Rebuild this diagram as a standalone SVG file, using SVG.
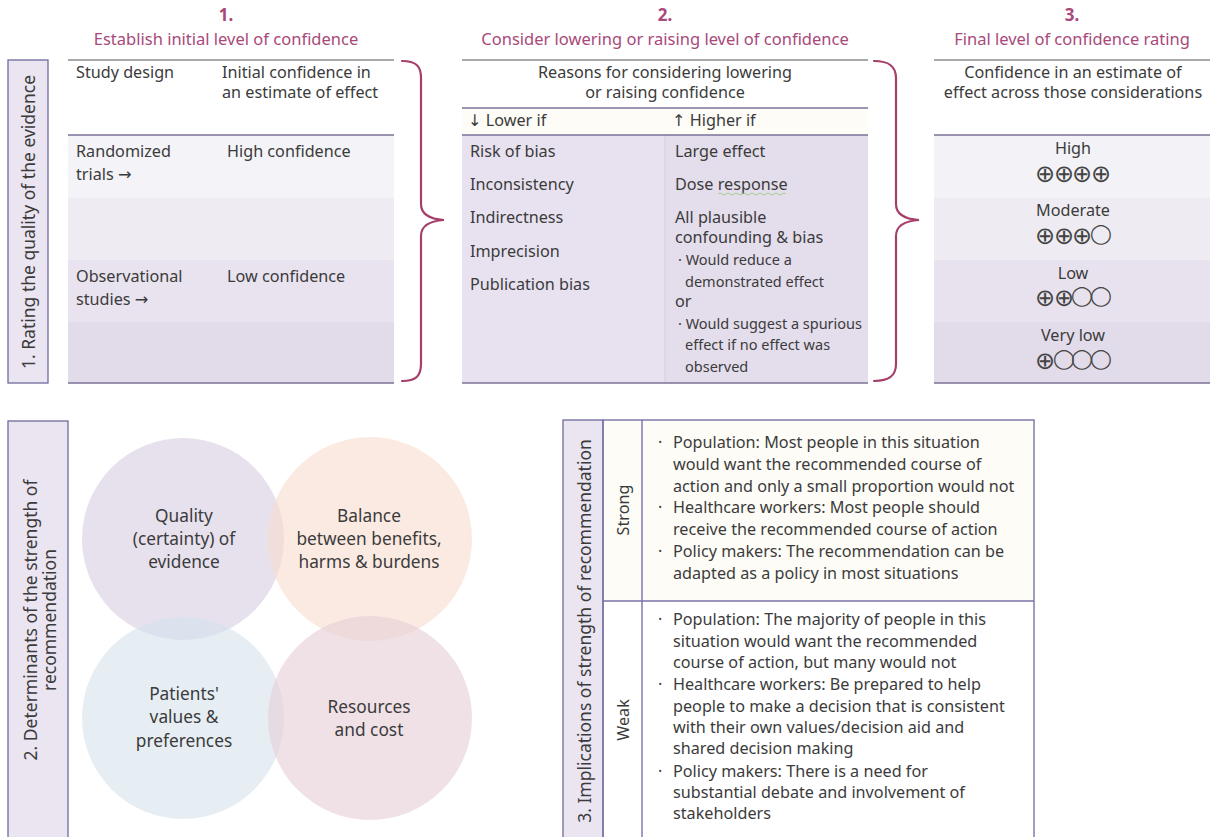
<svg xmlns="http://www.w3.org/2000/svg" width="1213" height="837" viewBox="0 0 1213 837">
  <style>
    text { font-family: "Noto Sans", "Liberation Sans", sans-serif; fill: #3b3b3b; }
    .t { font-size: 16.2px; }
    .s { font-size: 14.5px; }
    .c { text-anchor: middle; }
    .arr { font-family: "DejaVu Sans", sans-serif; }
    .hd { font-size: 16.5px; fill: #a8497a; text-anchor: middle; }
    .num { font-size: 17px; font-weight: bold; fill: #a8497a; text-anchor: middle; }
    .lbl { font-size: 17.5px; text-anchor: middle; }
    .circ { font-size: 17.3px; text-anchor: middle; }
    .sym { font-family: "DejaVu Sans", sans-serif; font-size: 19.5px; text-anchor: middle; fill: #444; }
    .plus { font-size: 24px; }
    .topline { stroke: #555; stroke-width: 1.2; }
    .pline { stroke: #7d7199; stroke-width: 1.5; }
    .labelbox { fill: #ebe5f2; stroke: #6f6a9c; stroke-width: 1.3; }
    .brace { fill: none; stroke: #a4406a; stroke-width: 2.2; stroke-linecap: round; }
    .grid { fill: none; stroke: #7a72a8; stroke-width: 1.4; }
  </style>

  <!-- Section 1: rating the quality of the evidence -->
  <g id="label-rating">
    <rect class="labelbox" x="8" y="60" width="40" height="323"/>
    <text class="lbl" transform="translate(35,222) rotate(-90)">1. Rating the quality of the evidence</text>
  </g>

  <g id="step1-initial">
    <text class="num" x="226" y="21">1.</text>
    <text class="hd" x="226" y="45">Establish initial level of confidence</text>
    <rect x="68" y="135" width="326" height="63" fill="#f4f3f7"/>
    <rect x="68" y="198" width="326" height="62" fill="#eeecf2"/>
    <rect x="68" y="260" width="326" height="62" fill="#e9e3ef"/>
    <rect x="68" y="322" width="326" height="61" fill="#e2dbea"/>
    <line class="topline" x1="68" y1="60" x2="394" y2="60"/>
    <line class="pline" x1="68" y1="135" x2="394" y2="135"/>
    <line class="pline" x1="68" y1="383" x2="394" y2="383"/>
    <text class="t" x="76" y="78">Study design</text>
    <text class="t" x="222" y="78">Initial confidence in</text>
    <text class="t" x="222" y="98">an estimate of effect</text>
    <text class="t" x="76" y="157">Randomized</text>
    <text class="t" x="76" y="180">trials <tspan class="arr">→</tspan></text>
    <text class="t" x="227" y="157">High confidence</text>
    <text class="t" x="76" y="282">Observational</text>
    <text class="t" x="76" y="305">studies <tspan class="arr">→</tspan></text>
    <text class="t" x="227" y="282">Low confidence</text>
  </g>

  <g id="step2-adjust">
    <text class="num" x="665" y="21">2.</text>
    <text class="hd" x="665" y="45">Consider lowering or raising level of confidence</text>
    <rect x="462" y="108" width="406" height="27" fill="#fdfcf6"/>
    <rect x="462" y="135" width="203" height="248" fill="#e8e2f0"/>
    <rect x="665" y="135" width="203" height="248" fill="#e4ddec"/>
    <line x1="665" y1="135" x2="665" y2="383" stroke="#d4cde0" stroke-width="1"/>
    <line class="topline" x1="462" y1="60" x2="868" y2="60"/>
    <line class="pline" x1="462" y1="108" x2="868" y2="108"/>
    <line class="pline" x1="462" y1="135" x2="868" y2="135"/>
    <line class="pline" x1="462" y1="383" x2="868" y2="383"/>
    <text class="t c" x="665" y="78">Reasons for considering lowering</text>
    <text class="t c" x="665" y="98">or raising confidence</text>
    <text class="t" x="468" y="126"><tspan class="arr">↓</tspan> Lower if</text>
    <text class="t" x="672" y="126"><tspan class="arr">↑</tspan> Higher if</text>
    <text class="t" x="470" y="157">Risk of bias</text>
    <text class="t" x="470" y="190">Inconsistency</text>
    <text class="t" x="470" y="223">Indirectness</text>
    <text class="t" x="470" y="257">Imprecision</text>
    <text class="t" x="470" y="290">Publication bias</text>
    <text class="t" x="675" y="157">Large effect</text>
    <text class="t" x="675" y="190">Dose response</text>
    <path d="M718,194 q2,-2 4,0 t4,0 t4,0 t4,0 t4,0 t4,0 t4,0 t4,0 t4,0 t4,0 t4,0 t4,0 t4,0 t4,0 t4,0 t4,0 t4,0" fill="none" stroke="#9cc97a" stroke-width="1" opacity="0.8"/>
    <text class="t" x="675" y="223">All plausible</text>
    <text class="t" x="675" y="243">confounding &amp; bias</text>
    <text class="s" x="678" y="265">· Would reduce a</text>
    <text class="s" x="685" y="287">demonstrated effect</text>
    <text class="t" x="675" y="307">or</text>
    <text class="s" x="678" y="329">· Would suggest a spurious</text>
    <text class="s" x="685" y="350">effect if no effect was</text>
    <text class="s" x="685" y="372">observed</text>
  </g>

  <g id="step3-final">
    <text class="num" x="1072" y="21">3.</text>
    <text class="hd" x="1072" y="45">Final level of confidence rating</text>
    <rect x="934" y="135" width="276" height="63" fill="#f3f2f6"/>
    <rect x="934" y="198" width="276" height="62" fill="#eeecf2"/>
    <rect x="934" y="260" width="276" height="62" fill="#e8e2ee"/>
    <rect x="934" y="322" width="276" height="61" fill="#e2dbea"/>
    <line class="topline" x1="934" y1="60" x2="1210" y2="60"/>
    <line class="pline" x1="934" y1="135" x2="1210" y2="135"/>
    <line class="pline" x1="934" y1="383" x2="1210" y2="383"/>
    <text class="t c" x="1073" y="78">Confidence in an estimate of</text>
    <text class="t c" x="1073" y="98">effect across those considerations</text>
    <text class="t c" x="1073" y="154">High</text>
    <text class="sym" x="1045 1064 1082 1101" y="182"><tspan class="plus">⊕⊕⊕⊕</tspan></text>
    <text class="t c" x="1073" y="216">Moderate</text>
    <text class="sym" x="1045 1064 1082 1101" y="244 244 244 239.6"><tspan class="plus">⊕⊕⊕</tspan>◯</text>
    <text class="t c" x="1073" y="279">Low</text>
    <text class="sym" x="1045 1064 1082 1101" y="306 306 301.6 301.6"><tspan class="plus">⊕⊕</tspan>◯◯</text>
    <text class="t c" x="1073" y="341">Very low</text>
    <text class="sym" x="1045 1064 1082 1101" y="369 364.6 364.6 364.6"><tspan class="plus">⊕</tspan>◯◯◯</text>
  </g>

  <!-- Section 2: determinants of recommendation strength -->
  <g id="label-determinants">
    <rect class="labelbox" x="8" y="421" width="60" height="420"/>
    <text class="lbl" transform="translate(37,620) rotate(-90)">2. Determinants of the strength of</text>
    <text class="lbl" transform="translate(56,620) rotate(-90)">recommendation</text>
  </g>

  <g id="circle-quality">
    <circle cx="183" cy="539" r="101" fill="#d7cde3" fill-opacity="0.6"/>
  </g>
  <g id="circle-balance">
    <circle cx="370" cy="539" r="102" fill="#f8dccf" fill-opacity="0.6"/>
  </g>
  <g id="circle-patients">
    <circle cx="183" cy="718" r="101" fill="#d5e3ed" fill-opacity="0.6"/>
  </g>
  <g id="circle-resources">
    <circle cx="370" cy="718" r="102" fill="#e6cdd7" fill-opacity="0.6"/>
  </g>
  <g id="circle-labels">
    <text class="circ" x="184" y="522">Quality</text>
    <text class="circ" x="184" y="545">(certainty) of</text>
    <text class="circ" x="184" y="568">evidence</text>
    <text class="circ" x="369" y="522">Balance</text>
    <text class="circ" x="369" y="545">between benefits,</text>
    <text class="circ" x="369" y="568">harms &amp; burdens</text>
    <text class="circ" x="184" y="700">Patients'</text>
    <text class="circ" x="184" y="723">values &amp;</text>
    <text class="circ" x="184" y="747">preferences</text>
    <text class="circ" x="369" y="713">Resources</text>
    <text class="circ" x="369" y="736">and cost</text>
  </g>

  <!-- Section 3: implications of recommendation strength -->
  <g id="implications-table">
    <rect x="603" y="420" width="431" height="181" fill="#fdfcf7"/>
    <rect x="603" y="601" width="431" height="240" fill="#ffffff"/>
    <rect class="labelbox" x="563" y="420" width="40" height="421"/>
    <rect class="grid" x="603" y="420" width="431" height="421"/>
    <line class="grid" x1="642" y1="420" x2="642" y2="841"/>
    <line class="grid" x1="603" y1="601" x2="1034" y2="601"/>
    <text class="lbl" transform="translate(591,631) rotate(-90)">3. Implications of strength of recommendation</text>
    <text class="t c" transform="translate(629,510) rotate(-90)">Strong</text>
    <text class="t c" transform="translate(629,720) rotate(-90)">Weak</text>
  </g>

  <g id="strong-row">
    <text class="t" x="658" y="448">·</text>
    <text class="t" x="673" y="448">Population: Most people in this situation</text>
    <text class="t" x="673" y="470">would want the recommended course of</text>
    <text class="t" x="673" y="492">action and only a small proportion would not</text>
    <text class="t" x="658" y="513">·</text>
    <text class="t" x="673" y="513">Healthcare workers: Most people should</text>
    <text class="t" x="673" y="535">receive the recommended course of action</text>
    <text class="t" x="658" y="557">·</text>
    <text class="t" x="673" y="557">Policy makers: The recommendation can be</text>
    <text class="t" x="673" y="579">adapted as a policy in most situations</text>
  </g>

  <g id="weak-row">
    <text class="t" x="658" y="625">·</text>
    <text class="t" x="673" y="625">Population: The majority of people in this</text>
    <text class="t" x="673" y="647">situation would want the recommended</text>
    <text class="t" x="673" y="668">course of action, but many would not</text>
    <text class="t" x="658" y="690">·</text>
    <text class="t" x="673" y="690">Healthcare workers: Be prepared to help</text>
    <text class="t" x="673" y="712">people to make a decision that is consistent</text>
    <text class="t" x="673" y="733">with their own values/decision aid and</text>
    <text class="t" x="673" y="754">shared decision making</text>
    <text class="t" x="658" y="777">·</text>
    <text class="t" x="673" y="777">Policy makers: There is a need for</text>
    <text class="t" x="673" y="798">substantial debate and involvement of</text>
    <text class="t" x="673" y="819">stakeholders</text>
  </g>

  <!-- Braces linking the three steps -->
  <g id="connectors">
    <path class="brace" d="M402,61 C416,61 421,66 421,78 L421,204 C421,214 429,219 444,220 C429,221 421,226 421,236 L421,364 C421,376 416,381 402,381"/>
    <path class="brace" d="M874,61 C889,61 896,66 896,78 L896,204 C896,214 904,219 919,220 C904,221 896,226 896,236 L896,364 C896,376 889,381 874,381"/>
  </g>
</svg>
